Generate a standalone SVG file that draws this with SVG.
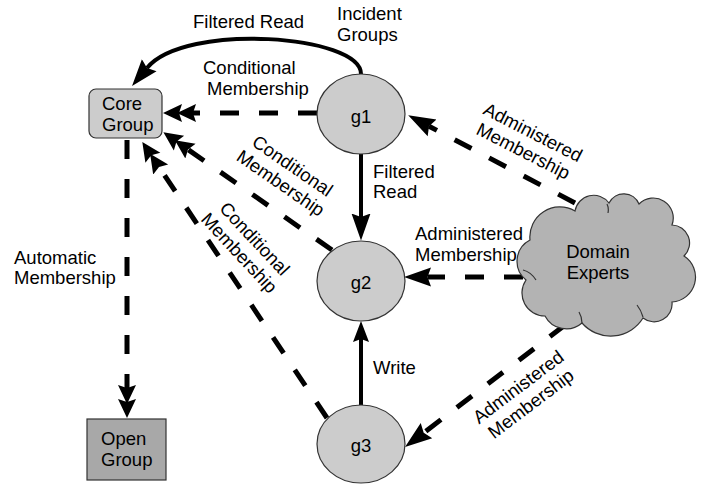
<svg xmlns="http://www.w3.org/2000/svg" width="701" height="487" viewBox="0 0 701 487">
<style>
text{font-family:"Liberation Sans",Arial,sans-serif;font-size:18.5px;fill:#000}
.node{fill:#cccccc;stroke:#333;stroke-width:1.2}
.solid{fill:none;stroke:#000;stroke-width:4}
.dash{fill:none;stroke:#000;stroke-width:5;stroke-dasharray:19 20}
.mid{text-anchor:middle}
</style>
<defs>
<marker id="ah" markerUnits="userSpaceOnUse" markerWidth="32" markerHeight="22" viewBox="0 0 32 22" refX="3.5" refY="11" orient="auto"><path d="M0,1.5 L27,11 L0,20.5 L3.5,11 Z" fill="#000"/></marker>
<marker id="ahs" markerUnits="userSpaceOnUse" markerWidth="24" markerHeight="20" viewBox="0 0 24 20" refX="3" refY="10" orient="auto"><path d="M0,2 L21,10 L0,18 L3,10 Z" fill="#000"/></marker>
<marker id="ah2" markerUnits="userSpaceOnUse" markerWidth="38" markerHeight="22" viewBox="0 0 38 22" refX="3" refY="11" orient="auto"><path d="M0,2 L19,11 L0,20 L3,11 Z M14,2 L33,11 L14,20 L17,11 Z" fill="#000"/></marker>
</defs>
<rect width="701" height="487" fill="#fff"/>
<g id="connectors">
<path class="solid" d="M361,74 C361,35 185,22 147,68" marker-end="url(#ah)"/>
<path class="solid" d="M361,154 L361,217" marker-end="url(#ah)"/>
<path class="solid" d="M361,405 L361,339" marker-end="url(#ahs)"/>
<path class="dash" d="M317,113 L193,113" marker-end="url(#ah2)"/>
<path class="dash" d="M332,250 L188,149.5" marker-end="url(#ah2)"/>
<path class="dash" d="M327,418 L159,167" marker-end="url(#ah2)"/>
<path class="dash" d="M127,140 L127,388" marker-end="url(#ah2)"/>
<path class="dash" d="M575,203 L429,126.2" marker-end="url(#ah)"/>
<path class="dash" d="M523,277 L427.5,277" marker-end="url(#ah)"/>
<path class="dash" d="M565,325 L423.7,432.8" marker-end="url(#ah)"/>
</g>
<g id="labels">
<text x="193" y="28">Filtered Read</text>
<text x="337" y="20">Incident</text>
<text x="337" y="41">Groups</text>
<text x="203" y="74">Conditional</text>
<text x="207" y="95">Membership</text>
<text x="373" y="178">Filtered</text>
<text x="373" y="198">Read</text>
<text x="415" y="240">Administered</text>
<text x="415" y="261">Membership</text>
<text x="14" y="264">Automatic</text>
<text x="14" y="284">Membership</text>
<text x="373" y="374">Write</text>
<g transform="translate(289,171) rotate(34.5)"><text class="mid" x="0" y="0">Conditional</text><text class="mid" x="0" y="21">Membership</text></g>
<g transform="translate(250,243) rotate(47)"><text class="mid" x="0" y="0">Conditional</text><text class="mid" x="0" y="21">Membership</text></g>
<g transform="translate(530,138) rotate(27)"><text class="mid" x="0" y="0">Administered</text><text class="mid" x="0" y="21">Membership</text></g>
<g transform="translate(522,392) rotate(-37)"><text class="mid" x="0" y="0">Administered</text><text class="mid" x="0" y="21">Membership</text></g>
</g>
<g id="core-group">
<rect class="node" x="89" y="89" width="73" height="49" rx="7"/>
<text x="102" y="110">Core</text>
<text x="102" y="131">Group</text>
</g>
<g id="open-group">
<rect x="87" y="419" width="79" height="61" fill="#a8a8a8" stroke="#333" stroke-width="1.2"/>
<text x="101" y="445">Open</text>
<text x="101" y="466">Group</text>
</g>
<g id="g1">
<ellipse class="node" cx="361" cy="114" rx="44" ry="40"/>
<text class="mid" x="361" y="123">g1</text>
</g>
<g id="g2">
<ellipse class="node" cx="361" cy="281" rx="44" ry="40"/>
<text class="mid" x="361" y="289">g2</text>
</g>
<g id="g3">
<ellipse class="node" cx="361" cy="444" rx="44" ry="39"/>
<text class="mid" x="361" y="452">g3</text>
</g>
<g id="domain-experts">
<path d="M575,211 A19,19 0 0 1 609,203 A16.5,16.5 0 0 1 639,204 A20,20 0 0 1 672,225 A18,18 0 0 1 684,256 A25,25 0 0 1 672,302 A18,18 0 0 1 643,318 A38,38 0 0 1 582,323 A24,24 0 0 1 545,316 A23,23 0 0 1 526,280 A24,24 0 0 1 530,240 A30,30 0 0 1 575,211 Z" fill="#b3b3b3" stroke="#333" stroke-width="1.2"/>
<path d="M523,270 q8,2 13,10 M579,312 q3,5 3,11 M637,305 q4,5 6,12 M607,204 q2,4 1,9" fill="none" stroke="#333" stroke-width="1.2"/>
<text class="mid" x="598" y="258">Domain</text>
<text class="mid" x="598" y="279">Experts</text>
</g>
</svg>
